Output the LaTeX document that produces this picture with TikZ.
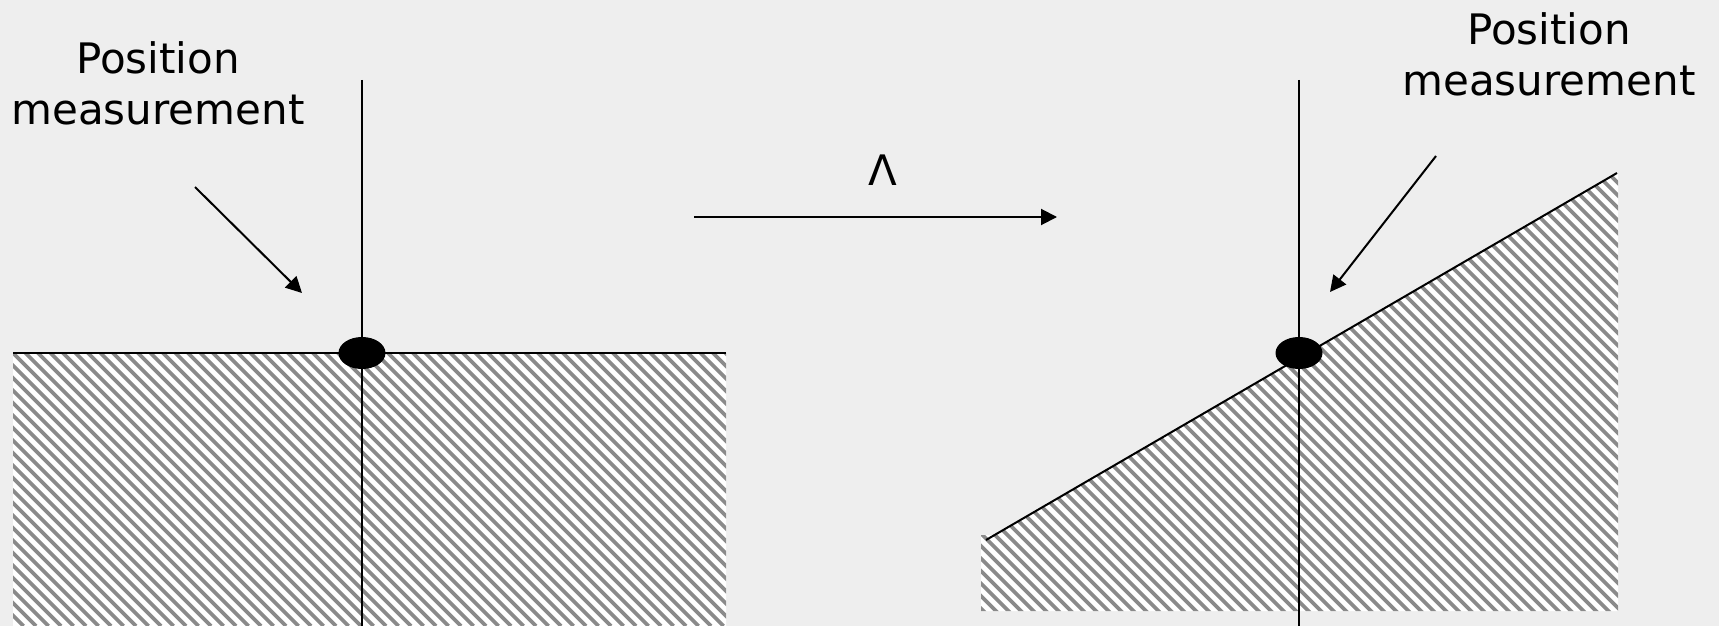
\documentclass[tikz,border=0pt]{standalone}
\usepackage{fontspec}
\setmainfont{DejaVu Sans}
\usetikzlibrary{arrows.meta,shapes.geometric}
\definecolor{bg}{HTML}{EEEEEE}
\definecolor{hatchgray}{HTML}{8A8A8A}
\newcommand\myhatchlines{%
  \fill[white] (0,0) rectangle (1719,626);
  \foreach \i in {0,...,190} \draw[hatchgray, line width=1.8pt] ({-640+12.5*\i},0) -- ++(626,626);%
}
\begin{document}
\begin{tikzpicture}[x=0.5pt,y=-0.5pt,
  lbl/.style={font=\fontsize{21}{25.5}\selectfont, align=center, inner sep=0pt},
  blk/.style={line width=1pt, black},
  arr/.style={line width=1pt, black, -{Triangle[length=8pt,width=8pt]}},
  dot/.style={ellipse, fill=black, minimum width=23.5pt, minimum height=16pt, inner sep=0pt},
]
\fill[bg] (0,0) rectangle (1719,626);
\useasboundingbox (0,0) rectangle (1719,626);
% left hatched block
\begin{scope}
  \clip (13,353) rectangle (726,626);
  \myhatchlines
\end{scope}
% right hatched block
\begin{scope}
  \clip (981,535) -- (994.6,535) -- (1618,173) -- (1618,611) -- (981,611) -- cycle;
  \myhatchlines
\end{scope}
% left figure
\coordinate (lt) at (362,80);
\coordinate (lb) at (362,626);
\coordinate (hl) at (13,353);
\coordinate (hr) at (726,353);
\draw[blk] (lt) -- (lb);
\draw[blk] (hl) -- (hr);
\node[dot] (e1) at (362,353) {};
% right figure
\coordinate (rt) at (1299,80);
\coordinate (rb) at (1299,626);
\coordinate (sl) at (986,540);
\coordinate (sr) at (1617,173);
\draw[blk] (rt) -- (rb);
\draw[blk] (sl) -- (sr);
\node[dot] (e2) at (1299,353) {};
% arrows
\coordinate (a1s) at (195,187);
\coordinate (a1e) at (302,293);
\draw[arr] (a1s) -- (a1e);
\coordinate (a2s) at (1436,156);
\coordinate (a2e) at (1330,292);
\draw[arr] (a2s) -- (a2e);
\coordinate (a3s) at (694,217);
\coordinate (a3e) at (1057,217);
\draw[arr] (a3s) -- (a3e);
% labels
\node[lbl] (t1) at (158,83) {Position\\measurement};
\node[lbl] (t2) at (1549,54) {Position\\measurement};
\node[lbl, anchor=base] (lam) at (883,185) {Λ};
\end{tikzpicture}
\end{document}
